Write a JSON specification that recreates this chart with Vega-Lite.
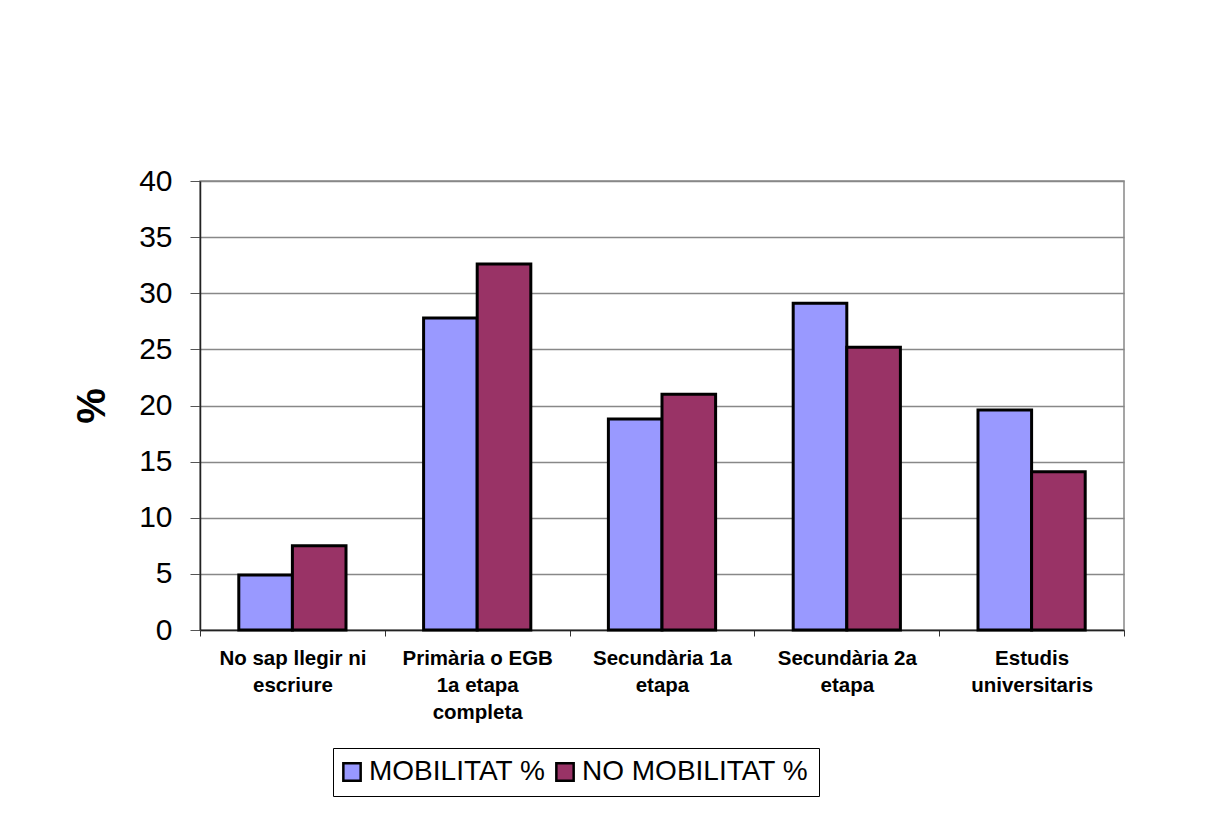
{
  "$schema": "https://vega.github.io/schema/vega-lite/v6.json",
  "autosize": {"type": "none"},
  "width": 924,
  "height": 449,
  "padding": {"left": 200, "top": 181, "right": 91, "bottom": 192},
  "background": "white",
  "config": {
    "view": {"stroke": "#888888", "strokeWidth": 1.5},
    "font": "Liberation Sans"
  },
  "data": {
    "values": [
      {"cat": "No sap llegir ni escriure", "serie": "MOBILITAT %", "value": 4.9},
      {"cat": "No sap llegir ni escriure", "serie": "NO MOBILITAT %", "value": 7.5},
      {"cat": "Primària o EGB 1a etapa completa", "serie": "MOBILITAT %", "value": 27.8},
      {"cat": "Primària o EGB 1a etapa completa", "serie": "NO MOBILITAT %", "value": 32.6},
      {"cat": "Secundària 1a etapa", "serie": "MOBILITAT %", "value": 18.8},
      {"cat": "Secundària 1a etapa", "serie": "NO MOBILITAT %", "value": 21.0},
      {"cat": "Secundària 2a etapa", "serie": "MOBILITAT %", "value": 29.1},
      {"cat": "Secundària 2a etapa", "serie": "NO MOBILITAT %", "value": 25.2},
      {"cat": "Estudis universitaris", "serie": "MOBILITAT %", "value": 19.6},
      {"cat": "Estudis universitaris", "serie": "NO MOBILITAT %", "value": 14.1}
    ]
  },
  "mark": {"type": "bar", "stroke": "black", "strokeWidth": 3},
  "encoding": {
    "x": {
      "field": "cat",
      "type": "nominal",
      "sort": null,
      "scale": {"paddingInner": 0, "paddingOuter": 0},
      "axis": {
        "title": null,
        "labelAngle": 0,
        "labelFont": "Liberation Sans",
        "labelFontWeight": "bold",
        "labelFontSize": 20.5,
        "labelColor": "black",
        "labelLineHeight": 27,
        "labelPadding": 12,
        "labelLimit": 300,
        "tickBand": "extent",
        "tickSize": 6,
        "tickColor": "#333333",
        "domainColor": "#222222",
        "domainWidth": 1.5,
        "labelExpr": "datum.value == 'No sap llegir ni escriure' ? ['No sap llegir ni', 'escriure'] : datum.value == 'Primària o EGB 1a etapa completa' ? ['Primària o EGB', '1a etapa', 'completa'] : datum.value == 'Secundària 1a etapa' ? ['Secundària 1a', 'etapa'] : datum.value == 'Secundària 2a etapa' ? ['Secundària 2a', 'etapa'] : datum.value == 'Estudis universitaris' ? ['Estudis', 'universitaris'] : ''"
      }
    },
    "xOffset": {
      "field": "serie",
      "type": "nominal",
      "scale": {"paddingInner": 0, "paddingOuter": 0.7237}
    },
    "y": {
      "field": "value",
      "type": "quantitative",
      "scale": {"domain": [0, 40], "nice": false},
      "axis": {
        "title": "%",
        "titleFont": "Liberation Sans",
        "titleFontSize": 40,
        "titleFontWeight": "bold",
        "titleColor": "black",
        "titlePadding": 26,
        "values": [0, 5, 10, 15, 20, 25, 30, 35, 40],
        "labelFont": "Liberation Sans",
        "labelFontSize": 30,
        "labelColor": "black",
        "labelPadding": 18,
        "tickSize": 10,
        "tickColor": "#555555",
        "domainColor": "#222222",
        "domainWidth": 1.5,
        "gridColor": "#888888",
        "gridWidth": 1.3
      }
    },
    "fill": {
      "field": "serie",
      "type": "nominal",
      "scale": {"domain": ["MOBILITAT %", "NO MOBILITAT %"], "range": ["#9999FF", "#993366"]},
      "legend": {
        "title": null,
        "orient": "none",
        "legendX": 133,
        "legendY": 567,
        "direction": "horizontal",
        "strokeColor": "black",
        "fillColor": "white",
        "padding": 10,
        "symbolType": "square",
        "symbolSize": 300,
        "symbolOffset": -5,
        "symbolStrokeColor": "black",
        "symbolStrokeWidth": 2.5,
        "symbolOpacity": 1,
        "labelFont": "Liberation Sans",
        "labelFontSize": 28,
        "labelColor": "black",
        "labelOffset": 3,
        "labelLimit": 400,
        "columnPadding": 5,
        "labelExpr": "datum.label == 'NO MOBILITAT %' ? 'NO MOBILITAT %\u00a0' : datum.label"
      }
    }
  }
}
